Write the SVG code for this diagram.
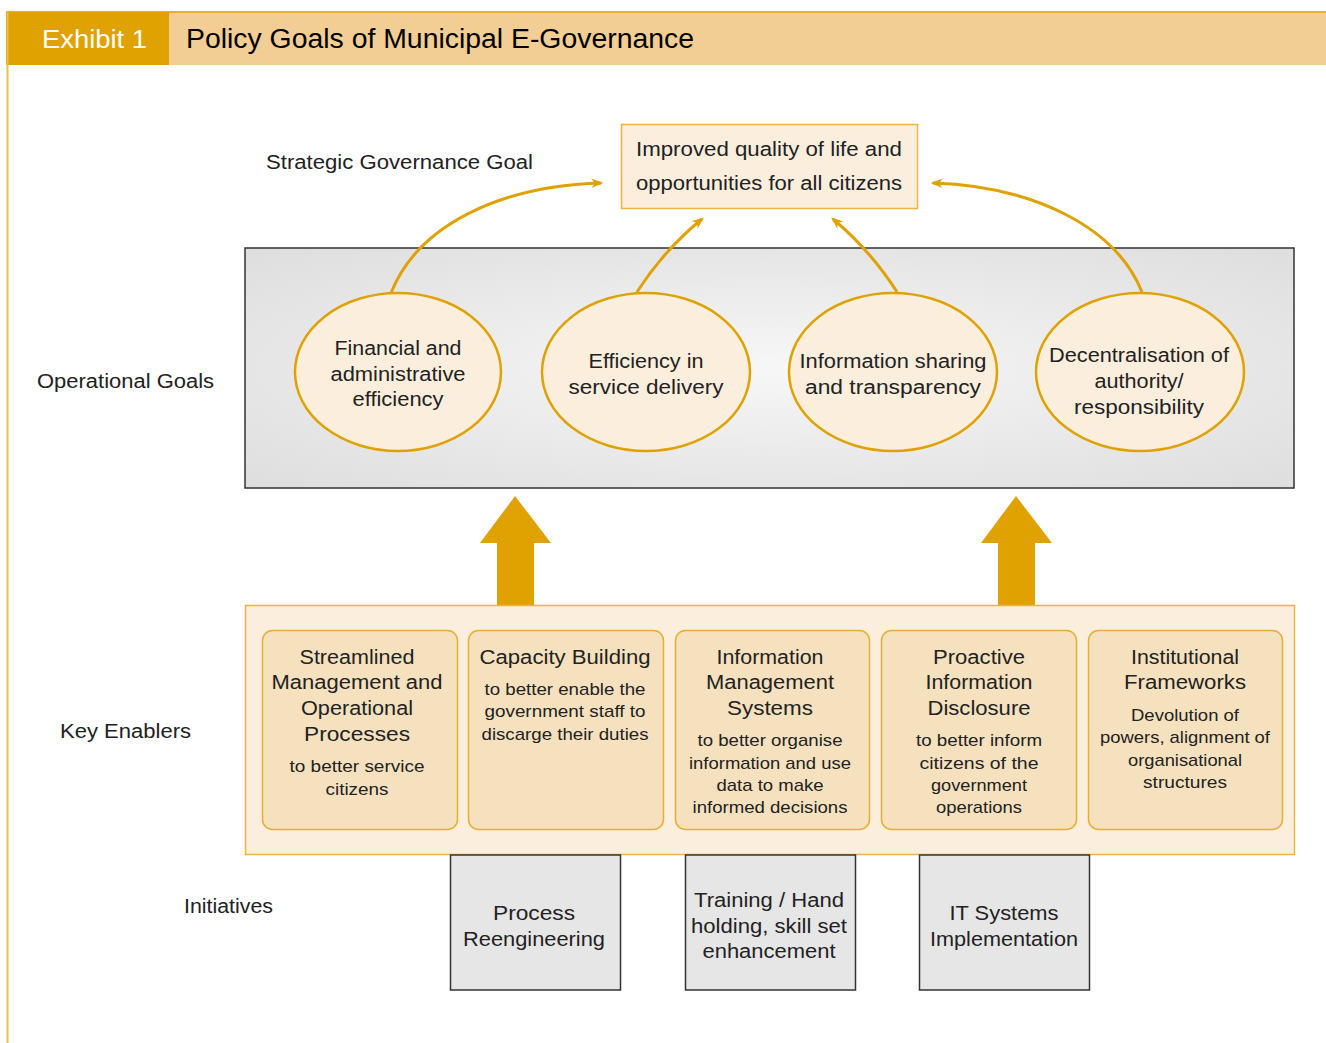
<svg xmlns="http://www.w3.org/2000/svg" width="1326" height="1043" viewBox="0 0 1326 1043">
<defs>
<style>
text{font-family:"Liberation Sans",Arial,sans-serif;fill:#222;}
.lbl{font-size:20px;}
.ct{text-anchor:middle;}
.el{fill:#FBEEDD;stroke:#E0A200;stroke-width:2.5;}
.t20{font-size:20px;}
.t17{font-size:17px;}
.en{fill:#F5E1BE;stroke:#E8AE30;stroke-width:1.5;}
.ini{fill:#E6E6E6;stroke:#333;stroke-width:1.5;}
.con{fill:none;stroke:#E0A200;stroke-width:3;marker-end:url(#ah);}
</style>
<marker id="ah" viewBox="0 0 10 10" refX="8" refY="5" markerWidth="4" markerHeight="4" orient="auto" markerUnits="strokeWidth">
<path d="M0,1 L10,5 L0,9 L3,5 Z" fill="#E0A200"/>
</marker>
<radialGradient id="gp" cx="0.5" cy="0.5" r="0.7">
<stop offset="0" stop-color="#F7F7F7"/>
<stop offset="1" stop-color="#DEDEDE"/>
</radialGradient>
</defs>
<rect width="1326" height="1043" fill="#fff"/>
<g id="header">
<rect x="6" y="12" width="1320" height="53" fill="#F2CE94"/>
<line x1="6" y1="12" x2="1326" y2="12" stroke="#E8B030" stroke-width="2"/>
<rect x="6" y="12" width="163" height="53" fill="#E0A200"/>
<line x1="7.5" y1="12" x2="7.5" y2="1043" stroke="#EDBE50" stroke-width="2"/>
<text x="42" y="48" font-size="26" style="fill:#fff" textLength="105" lengthAdjust="spacingAndGlyphs">Exhibit 1</text>
<text x="186" y="48" font-size="27" style="fill:#000" textLength="508" lengthAdjust="spacingAndGlyphs">Policy Goals of Municipal E-Governance</text>
</g>
<text class="lbl" x="266" y="169" textLength="267" lengthAdjust="spacingAndGlyphs">Strategic Governance Goal</text>
<text class="lbl" x="37" y="388" textLength="177" lengthAdjust="spacingAndGlyphs">Operational Goals</text>
<text class="lbl" x="60" y="738" textLength="131" lengthAdjust="spacingAndGlyphs">Key Enablers</text>
<text class="lbl" x="184" y="913" textLength="89" lengthAdjust="spacingAndGlyphs">Initiatives</text>
<g id="goal">
<rect x="621.5" y="124.5" width="296" height="84" fill="#FBEEDD" stroke="#EDB440" stroke-width="1.5"/>
<text class="t20 ct" x="769" y="156" textLength="266" lengthAdjust="spacingAndGlyphs">Improved quality of life and</text>
<text class="t20 ct" x="769" y="190" textLength="266" lengthAdjust="spacingAndGlyphs">opportunities for all citizens</text>
</g>
<g id="opgoals">
<rect x="245" y="248" width="1049" height="240" fill="url(#gp)" stroke="#333" stroke-width="1.5"/>
</g>
<g id="og1"><ellipse class="el" cx="398" cy="372" rx="103" ry="79"/>
<text class="t20 ct" x="398" y="355" textLength="127" lengthAdjust="spacingAndGlyphs">Financial and</text><text class="t20 ct" x="398" y="381" textLength="135" lengthAdjust="spacingAndGlyphs">administrative</text><text class="t20 ct" x="398" y="406" textLength="91" lengthAdjust="spacingAndGlyphs">efficiency</text></g>
<g id="og2"><ellipse class="el" cx="646" cy="372" rx="104" ry="79"/>
<text class="t20 ct" x="646" y="368" textLength="115" lengthAdjust="spacingAndGlyphs">Efficiency in</text><text class="t20 ct" x="646" y="394" textLength="155" lengthAdjust="spacingAndGlyphs">service delivery</text></g>
<g id="og3"><ellipse class="el" cx="893" cy="372" rx="104" ry="79"/>
<text class="t20 ct" x="893" y="368" textLength="187" lengthAdjust="spacingAndGlyphs">Information sharing</text><text class="t20 ct" x="893" y="394" textLength="176" lengthAdjust="spacingAndGlyphs">and transparency</text></g>
<g id="og4"><ellipse class="el" cx="1140" cy="372" rx="104" ry="79"/>
<text class="t20 ct" x="1139" y="362" textLength="180" lengthAdjust="spacingAndGlyphs">Decentralisation of</text><text class="t20 ct" x="1139" y="388" textLength="89" lengthAdjust="spacingAndGlyphs">authority/</text><text class="t20 ct" x="1139" y="414" textLength="130" lengthAdjust="spacingAndGlyphs">responsibility</text></g>
<g id="connectors">
<path class="con" d="M391,293 C418,225 500,186 601,183"/>
<path class="con" d="M637,292 Q664,250 702,219"/>
<path class="con" d="M897,292 Q871,251 833,219"/>
<path class="con" d="M1142,292 C1115,225 1030,186 933,183"/>
<path d="M497,605 V543 H480 L515,496 L551,543 H534 V605 Z" fill="#E0A200"/>
<path d="M998,605 V543 H981 L1016,496 L1052,543 H1035 V605 Z" fill="#E0A200"/>
</g>
<g id="enablers">
<rect x="245.5" y="605.5" width="1049" height="249" fill="#FBEEDD" stroke="#EDB440" stroke-width="1.5"/>
</g>
<g id="en1"><rect class="en" x="262.5" y="630.5" width="195" height="199" rx="10"/>
<text class="t20 ct" x="357" y="664" textLength="115" lengthAdjust="spacingAndGlyphs">Streamlined</text><text class="t20 ct" x="357" y="689" textLength="171" lengthAdjust="spacingAndGlyphs">Management and</text><text class="t20 ct" x="357" y="715" textLength="112" lengthAdjust="spacingAndGlyphs">Operational</text><text class="t20 ct" x="357" y="741" textLength="106" lengthAdjust="spacingAndGlyphs">Processes</text>
<text class="t17 ct" x="357" y="772" textLength="135" lengthAdjust="spacingAndGlyphs">to better service</text><text class="t17 ct" x="357" y="795" textLength="63" lengthAdjust="spacingAndGlyphs">citizens</text></g>
<g id="en2"><rect class="en" x="468.5" y="630.5" width="195" height="199" rx="10"/>
<text class="t20 ct" x="565" y="664" textLength="171" lengthAdjust="spacingAndGlyphs">Capacity Building</text>
<text class="t17 ct" x="565" y="695" textLength="161" lengthAdjust="spacingAndGlyphs">to better enable the</text><text class="t17 ct" x="565" y="717" textLength="161" lengthAdjust="spacingAndGlyphs">government staff to</text><text class="t17 ct" x="565" y="740" textLength="167" lengthAdjust="spacingAndGlyphs">discarge their duties</text></g>
<g id="en3"><rect class="en" x="675.5" y="630.5" width="194" height="199" rx="10"/>
<text class="t20 ct" x="770" y="664" textLength="107" lengthAdjust="spacingAndGlyphs">Information</text><text class="t20 ct" x="770" y="689" textLength="128" lengthAdjust="spacingAndGlyphs">Management</text><text class="t20 ct" x="770" y="715" textLength="86" lengthAdjust="spacingAndGlyphs">Systems</text>
<text class="t17 ct" x="770" y="746" textLength="145" lengthAdjust="spacingAndGlyphs">to better organise</text><text class="t17 ct" x="770" y="769" textLength="162" lengthAdjust="spacingAndGlyphs">information and use</text><text class="t17 ct" x="770" y="791" textLength="107" lengthAdjust="spacingAndGlyphs">data to make</text><text class="t17 ct" x="770" y="813" textLength="155" lengthAdjust="spacingAndGlyphs">informed decisions</text></g>
<g id="en4"><rect class="en" x="881.5" y="630.5" width="195" height="199" rx="10"/>
<text class="t20 ct" x="979" y="664" textLength="92" lengthAdjust="spacingAndGlyphs">Proactive</text><text class="t20 ct" x="979" y="689" textLength="107" lengthAdjust="spacingAndGlyphs">Information</text><text class="t20 ct" x="979" y="715" textLength="103" lengthAdjust="spacingAndGlyphs">Disclosure</text>
<text class="t17 ct" x="979" y="746" textLength="126" lengthAdjust="spacingAndGlyphs">to better inform</text><text class="t17 ct" x="979" y="769" textLength="119" lengthAdjust="spacingAndGlyphs">citizens of the</text><text class="t17 ct" x="979" y="791" textLength="96" lengthAdjust="spacingAndGlyphs">government</text><text class="t17 ct" x="979" y="813" textLength="86" lengthAdjust="spacingAndGlyphs">operations</text></g>
<g id="en5"><rect class="en" x="1088.5" y="630.5" width="194" height="199" rx="10"/>
<text class="t20 ct" x="1185" y="664" textLength="108" lengthAdjust="spacingAndGlyphs">Institutional</text><text class="t20 ct" x="1185" y="689" textLength="122" lengthAdjust="spacingAndGlyphs">Frameworks</text>
<text class="t17 ct" x="1185" y="721" textLength="108" lengthAdjust="spacingAndGlyphs">Devolution of</text><text class="t17 ct" x="1185" y="743" textLength="170" lengthAdjust="spacingAndGlyphs">powers, alignment of</text><text class="t17 ct" x="1185" y="766" textLength="114" lengthAdjust="spacingAndGlyphs">organisational</text><text class="t17 ct" x="1185" y="788" textLength="84" lengthAdjust="spacingAndGlyphs">structures</text></g>
<g id="in1"><rect class="ini" x="450.5" y="855" width="170" height="135"/>
<text class="t20 ct" x="534" y="920" textLength="82" lengthAdjust="spacingAndGlyphs">Process</text><text class="t20 ct" x="534" y="946" textLength="142" lengthAdjust="spacingAndGlyphs">Reengineering</text></g>
<g id="in2"><rect class="ini" x="685.5" y="855" width="170" height="135"/>
<text class="t20 ct" x="769" y="907" textLength="150" lengthAdjust="spacingAndGlyphs">Training / Hand</text><text class="t20 ct" x="769" y="933" textLength="156" lengthAdjust="spacingAndGlyphs">holding, skill set</text><text class="t20 ct" x="769" y="958" textLength="133" lengthAdjust="spacingAndGlyphs">enhancement</text></g>
<g id="in3"><rect class="ini" x="919.5" y="855" width="170" height="135"/>
<text class="t20 ct" x="1004" y="920" textLength="109" lengthAdjust="spacingAndGlyphs">IT Systems</text><text class="t20 ct" x="1004" y="946" textLength="148" lengthAdjust="spacingAndGlyphs">Implementation</text></g>
</svg>
